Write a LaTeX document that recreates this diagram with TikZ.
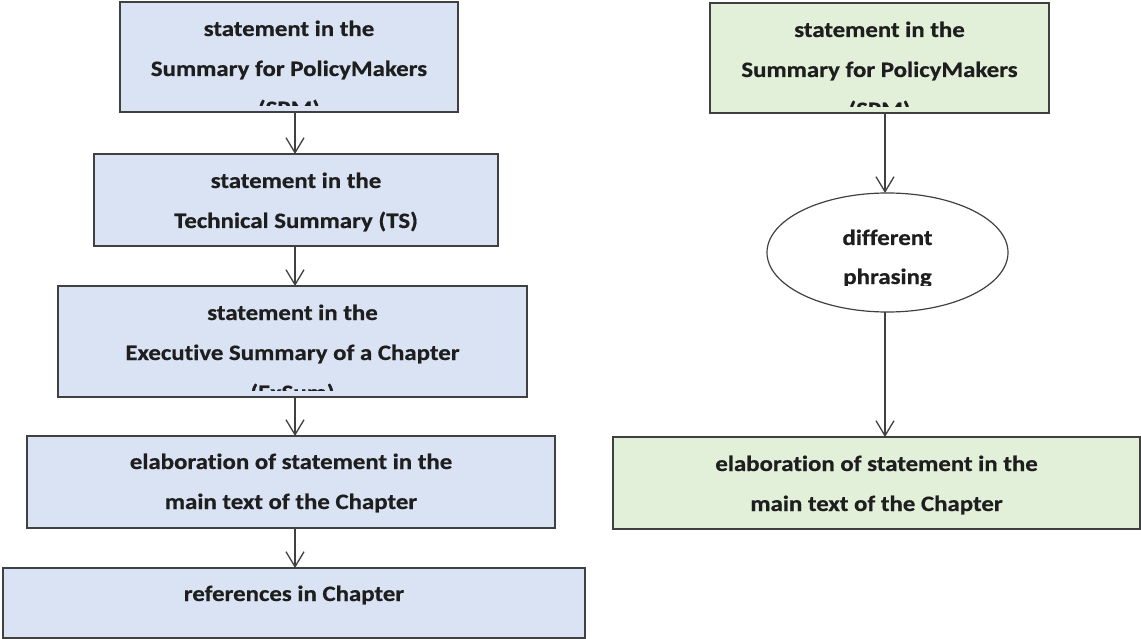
\documentclass[tikz,border=0pt]{standalone}
\usepackage{fontspec}
\newfontfamily\lblfont{Carlito}[FakeStretch=1.13,FakeBold=0.6,Ligatures=NoCommon]
\usetikzlibrary{arrows.meta,shapes.geometric}
\definecolor{boxblue}{HTML}{DAE3F3}
\definecolor{boxgreen}{HTML}{E2F0D9}
\definecolor{edgecol}{HTML}{404040}
\definecolor{txtcol}{HTML}{1E1E1E}
\tikzset{
  stepbox/.style={draw=edgecol, line width=1.3pt, rectangle, inner sep=0pt, outer sep=0pt},
  bluebox/.style={stepbox, fill=boxblue},
  greenbox/.style={stepbox, fill=boxgreen},
  oval/.style={draw=edgecol, line width=1.2pt, ellipse, fill=white, inner sep=0pt, outer sep=0pt},
  lbl/.style={anchor=base, inner sep=0pt, text=txtcol, font=\lblfont\bfseries\fontsize{22}{24}\selectfont},
  flow/.style={draw=edgecol, line width=1.3pt, -{Straight Barb[length=15pt,width=18pt,line width=1.3pt]}},
}
\begin{document}
\begin{tikzpicture}[x=1pt,y=-1pt]
\useasboundingbox (0,0) rectangle (1141,639);
% left column boxes
\node[bluebox, minimum width=338, minimum height=110] (b1) at (289,57) {};
\node[bluebox, minimum width=404, minimum height=92] (b2) at (296,200) {};
\node[bluebox, minimum width=469, minimum height=111] (b3) at (292.5,341.5) {};
\node[bluebox, minimum width=528, minimum height=92] (b4) at (291,482) {};
\node[bluebox, minimum width=582, minimum height=70] (b5) at (294,603) {};
% right column
\node[greenbox, minimum width=339, minimum height=110] (r1) at (879.5,58) {};
\node[oval, minimum width=241, minimum height=119] (el) at (887.5,252.5) {};
\node[greenbox, minimum width=527, minimum height=92] (r2) at (876.5,483) {};
% texts, clipped to their shapes
\begin{scope}
\clip ([yshift=6pt]b1.south west) rectangle (b1.north east);
\node[lbl] (t1a) at ([yshift=-34pt]b1.north) {statement in the};
\node[lbl] (t1b) at ([yshift=-74pt]b1.north) {Summary for PolicyMakers};
\node[lbl] (t1c) at ([yshift=-114pt]b1.north) {(SPM)};
\end{scope}
\node[lbl] (t2a) at ([yshift=-34pt]b2.north) {statement in the};
\node[lbl] (t2b) at ([yshift=-74pt]b2.north) {Technical Summary (TS)};
\begin{scope}
\clip ([yshift=7pt]b3.south west) rectangle (b3.north east);
\node[lbl] (t3a) at ([yshift=-34pt]b3.north) {statement in the};
\node[lbl] (t3b) at ([yshift=-74pt]b3.north) {Executive Summary of a Chapter};
\node[lbl] (t3c) at ([yshift=-114pt]b3.north) {(ExSum)};
\end{scope}
\node[lbl] (t4a) at ([yshift=-33pt]b4.north) {elaboration of statement in the};
\node[lbl] (t4b) at ([yshift=-73pt]b4.north) {main text of the Chapter};
\node[lbl] (t5a) at ([yshift=-33pt]b5.north) {references in Chapter};
\begin{scope}
\clip ([yshift=6pt]r1.south west) rectangle (r1.north east);
\node[lbl] (u1a) at ([yshift=-34pt]r1.north) {statement in the};
\node[lbl] (u1b) at ([yshift=-74pt]r1.north) {Summary for PolicyMakers};
\node[lbl] (u1c) at ([yshift=-114pt]r1.north) {(SPM)};
\end{scope}
\begin{scope}
\clip (el.west |- 0,193) rectangle (el.east |- 0,286);
\node[lbl] (e1a) at ([yshift=-52pt]el.north) {different};
\node[lbl] (e1b) at ([yshift=-91pt]el.north) {phrasing};
\end{scope}
\node[lbl] (u2a) at ([yshift=-34pt]r2.north) {elaboration of statement in the};
\node[lbl] (u2b) at ([yshift=-74pt]r2.north) {main text of the Chapter};
% connectors
\coordinate (lx) at (295,0);
\coordinate (rx) at (885,0);
\draw[flow] (b1.south -| lx) -- (b2.north -| lx);
\draw[flow] (b2.south -| lx) -- (b3.north -| lx);
\draw[flow] (b3.south -| lx) -- (b4.north -| lx);
\draw[flow] (b4.south -| lx) -- (b5.north -| lx);
\draw[flow] (r1.south -| rx) -- (el.north -| rx);
\draw[flow] (el.south -| rx) -- (r2.north -| rx);
\end{tikzpicture}
\end{document}
